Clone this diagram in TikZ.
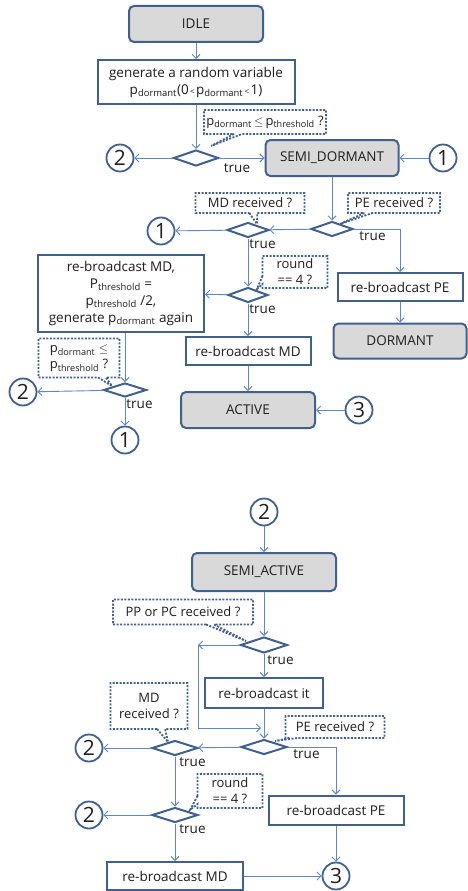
\documentclass[tikz,border=0pt]{standalone}
\usepackage{fontspec}
\setmainfont{Open Sans}
\usetikzlibrary{arrows.meta,shapes.geometric,shapes.callouts}

\definecolor{boxline}{RGB}{64,96,144}
\definecolor{flowline}{RGB}{96,136,196}
\definecolor{statefill}{RGB}{217,217,217}
\definecolor{textc}{RGB}{30,30,30}

\newcommand{\pdorm}{p\textsubscript{dormant}}
\newcommand{\pthr}{p\textsubscript{threshold}}

\begin{document}
\begin{tikzpicture}[x=1pt, y=-1pt,
  every node/.style={font=\fontsize{13.5}{17}\selectfont, text=textc},
  >={Straight Barb[length=4pt,width=8pt]},
  state/.style={draw=boxline, line width=2pt, fill=statefill, rounded corners=5pt,
    minimum width=134pt, minimum height=36pt, inner sep=2pt},
  proc/.style={draw=boxline, line width=2pt, fill=white, align=center, inner sep=2pt},
  cond/.style={diamond, draw=boxline, line width=2pt, minimum width=44pt,
    minimum height=15pt, inner sep=0pt},
  conn/.style={circle, draw=boxline, line width=1.8pt, minimum size=27pt, inner sep=0pt,
    font=\fontsize{21}{21}\selectfont},
  note/.style={rectangle callout, draw=boxline, line width=1.8pt,
    dash pattern=on 2pt off 1.5pt, align=center, inner sep=1pt,
    callout pointer width=8pt, font=\fontsize{13}{16}\selectfont},
  flow/.style={draw=flowline, line width=0.9pt, ->},
  truel/.style={anchor=north west, inner sep=1pt}]
  \useasboundingbox (0,0) rectangle (467,891);

  % upper chart
  \node[state] (idle) at (196,24) {IDLE};
  \node[proc, minimum width=197pt, minimum height=44pt] (gen) at (196,82)
    {generate a random variable\\\pdorm(0{\footnotesize\,<\,}\pdorm{\footnotesize\,<\,}1)};
  \node[cond, minimum width=45pt, minimum height=16pt] (d1) at (196,158) {};
  \node[conn] (c2a) at (120,158) {2};
  \node[state, minimum width=133pt] (sd) at (332,158) {SEMI\_DORMANT};
  \node[conn] (c1a) at (443,158) {1};
  \node[cond, minimum width=42pt, minimum height=15pt] (d2) at (248,230) {};
  \node[cond, minimum width=42pt, minimum height=15pt] (d3) at (332,229) {};
  \node[conn] (c1b) at (161,231) {1};
  \node[cond, minimum width=40pt, minimum height=15pt] (d4) at (248,295) {};
  \node[proc, minimum width=166pt, minimum height=77pt] (big) at (121,293)
    {re-broadcast MD,\\P\textsubscript{threshold} =\\\pthr{} /2,\\generate \pdorm{} again};
  \node[proc, minimum width=125pt, minimum height=28pt] (md1) at (248,351) {re-broadcast MD};
  \node[state] (act) at (248,410) {ACTIVE};
  \node[conn] (c3a) at (359,410) {3};
  \node[proc, minimum width=125pt, minimum height=28pt] (pe1) at (400,287) {re-broadcast PE};
  \node[state, minimum width=133pt, minimum height=35pt] (dor) at (400,341) {DORMANT};
  \node[cond, minimum width=43pt, minimum height=14pt] (d5) at (125,390) {};
  \node[conn] (c2b) at (23,392) {2};
  \node[conn] (c1c) at (125,440) {1};

  \node[note, minimum width=122pt, minimum height=24pt, callout absolute pointer={(211,146)}]
    (n1) at (265,122) {\pdorm{}\,$\leq$\,\pthr{} ?};
  \node[note, minimum width=109pt, minimum height=20pt, callout absolute pointer={(257,224)}]
    (n2) at (250,203) {MD received ?};
  \node[note, minimum width=92pt, minimum height=20pt, callout absolute pointer={(340,224)}]
    (n3) at (394,203) {PE received ?};
  \node[note, minimum width=65pt, minimum height=32pt, callout absolute pointer={(257,289)}]
    (n4) at (295,272) {round\\== 4 ?};
  \node[note, minimum width=81pt, minimum height=39pt, callout absolute pointer={(112,386)}]
    (n5) at (79,358) {\pdorm{} $\leq$\\\pthr{} ?};

  \draw[flow] (idle) -- (gen);
  \draw[flow] (gen) -- (d1);
  \draw[flow] (d1) -- (c2a);
  \draw[flow] (d1) -- (sd) node[truel, pos=0, xshift=3pt, yshift=-4pt] {true};
  \draw[flow] (c1a) -- (sd);
  \draw[flow] (sd) -- (d3);
  \draw[flow] (d3) -- (d2);
  \draw[flow] (d3.east) -| (pe1.north) node[truel, pos=0, xshift=4pt, yshift=-1pt] {true};
  \draw[flow] (d2) -- (c1b);
  \draw[flow] (d2) -- (d4) node[truel, pos=0] {true};
  \draw[flow] (d4) -- (big);
  \draw[flow] (d4) -- (md1) node[truel, pos=0] {true};
  \draw[flow] (md1) -- (act);
  \draw[flow] (c3a) -- (act);
  \draw[flow] (pe1) -- (dor);
  \draw[flow] (d5 |- big.south) -- (d5);
  \draw[flow] (d5) -- (c2b);
  \draw[flow] (d5) -- (c1c) node[truel, pos=0] {true};

  % lower chart
  \node[conn] (c2c) at (264,512) {2};
  \node[state, minimum width=144pt, minimum height=38pt] (sa) at (264,572) {SEMI\_ACTIVE};
  \node[cond, minimum width=47pt, minimum height=16pt] (d6) at (264,645) {};
  \node[proc, minimum width=118pt, minimum height=30pt] (rb) at (264,693) {re-broadcast it};
  \node[cond, minimum width=46pt, minimum height=15pt] (d7) at (264,747) {};
  \node[cond, minimum width=46pt, minimum height=15pt] (d8) at (175,748) {};
  \node[cond, minimum width=46pt, minimum height=15pt] (d9) at (175,815) {};
  \node[conn] (c2d) at (89,748) {2};
  \node[conn] (c2e) at (89,815) {2};
  \node[proc, minimum width=135pt, minimum height=29pt] (pe2) at (336,810) {re-broadcast PE};
  \node[proc, minimum width=136pt, minimum height=28pt] (md2) at (175,876) {re-broadcast MD};
  \node[conn] (c3b) at (336,876) {3};
  \coordinate (lpa) at (198,645);
  \coordinate (lpb) at (261,728);

  \node[note, minimum width=140pt, minimum height=25pt, callout absolute pointer={(246,641)}]
    (n6) at (183,612) {PP or PC received ?};
  \node[note, minimum width=99pt, minimum height=22pt, callout absolute pointer={(275,741)}]
    (n7) at (335,727) {PE received ?};
  \node[note, minimum width=77pt, minimum height=46pt, callout absolute pointer={(168,742)}]
    (n8) at (149,706) {MD\\received ?};
  \node[note, minimum width=65pt, minimum height=34pt, callout absolute pointer={(190,810)}]
    (n9) at (230,791) {round\\== 4 ?};

  \draw[flow] (c2c) -- (sa);
  \draw[flow] (sa) -- (d6);
  \draw[flow] (d6) -- (lpa);
  \draw[flow] (lpa) |- (lpb);
  \draw[flow] (d6) -- (rb) node[truel, pos=0, xshift=2pt] {true};
  \draw[flow] (rb) -- (d7);
  \draw[flow] (d7) -- (d8);
  \draw[flow] (d7.east) -| (pe2.north) node[truel, pos=0, xshift=4pt, yshift=-1pt] {true};
  \draw[flow] (d8) -- (c2d);
  \draw[flow] (d8) -- (d9) node[truel, pos=0, xshift=3pt] {true};
  \draw[flow] (d9) -- (c2e);
  \draw[flow] (d9) -- (md2) node[truel, pos=0, xshift=3pt] {true};
  \draw[flow] (md2) -- (c3b);
  \draw[flow] (pe2) -- (c3b);
\end{tikzpicture}
\end{document}
